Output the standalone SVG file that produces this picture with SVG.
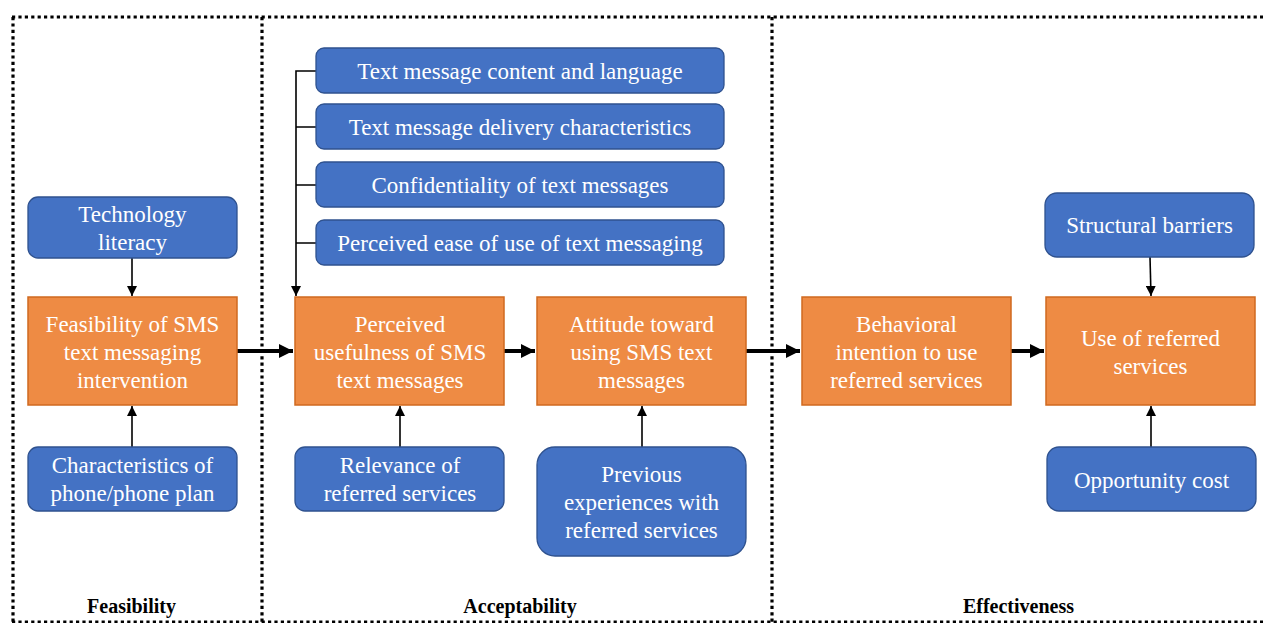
<svg xmlns="http://www.w3.org/2000/svg" width="1263" height="623" viewBox="0 0 1263 623">
<defs>
<style>
.blue{fill:#4472C4;stroke:#2F528F;stroke-width:1.3}
.orange{fill:#EE8B44;stroke:#D0691F;stroke-width:1.5}
.t{font-family:"Liberation Serif","Times New Roman",serif;font-size:23px;fill:#fff;text-anchor:middle}
.lbl{font-family:"Liberation Serif","Times New Roman",serif;font-size:20px;font-weight:bold;fill:#000;text-anchor:middle}
.dot{stroke:#000;stroke-width:3.2;stroke-dasharray:3.2 3.2;fill:none}
.thin{stroke:#000;stroke-width:1.6;fill:none}
.thick{stroke:#000;stroke-width:4;fill:none}
</style>
<marker id="ahs" viewBox="0 0 10 10" refX="10" refY="5" markerWidth="10" markerHeight="10" markerUnits="userSpaceOnUse" orient="auto"><path d="M0,0 L10,5 L0,10 z" fill="#000"/></marker>
<marker id="ahb" viewBox="0 0 10 10" refX="10" refY="5" markerWidth="14" markerHeight="14" markerUnits="userSpaceOnUse" orient="auto"><path d="M0,0 L10,5 L0,10 z" fill="#000"/></marker>
</defs>
<rect width="1263" height="623" fill="#fff"/>
<g id="frame">
<path class="dot" d="M12,17 H1263"/>
<path class="dot" d="M13,17 V623"/>
<path class="dot" d="M262,17 V623"/>
<path class="dot" d="M772,17 V623"/>
<path class="dot" d="M12,622 H1263"/>
</g>
<g id="connectors">
<path class="thick" d="M237,351 H293" marker-end="url(#ahb)"/>
<path class="thick" d="M504,351 H535" marker-end="url(#ahb)"/>
<path class="thick" d="M746,351 H800" marker-end="url(#ahb)"/>
<path class="thick" d="M1011,351 H1044" marker-end="url(#ahb)"/>
<path class="thin" d="M132,258 V296" marker-end="url(#ahs)"/>
<path class="thin" d="M132,447 V406" marker-end="url(#ahs)"/>
<path class="thin" d="M400,447 V406" marker-end="url(#ahs)"/>
<path class="thin" d="M642,447 V406" marker-end="url(#ahs)"/>
<path class="thin" d="M1150,257 L1151,296" marker-end="url(#ahs)"/>
<path class="thin" d="M1151,447 V406" marker-end="url(#ahs)"/>
<path class="thin" d="M316,71 H296 V296" marker-end="url(#ahs)"/>
<path class="thin" d="M296,127 H316 M296,185 H316 M296,243 H316"/>
</g>
<g id="n_tech"><rect class="blue" x="28" y="197" width="209" height="61" rx="10"/><text class="t" x="132.5" y="222">Technology</text><text class="t" x="132.5" y="250">literacy</text></g>
<g id="n_feas"><rect class="orange" x="28" y="297" width="209" height="108"/><text class="t" x="132.5" y="332">Feasibility of SMS</text><text class="t" x="132.5" y="360">text messaging</text><text class="t" x="132.5" y="388">intervention</text></g>
<g id="n_char"><rect class="blue" x="28" y="447" width="209" height="64" rx="10"/><text class="t" x="132.5" y="473">Characteristics of</text><text class="t" x="132.5" y="501">phone/phone plan</text></g>
<g id="n_s1"><rect class="blue" x="316" y="48" width="408" height="45" rx="8"/><text class="t" x="520" y="79">Text message content and language</text></g>
<g id="n_s2"><rect class="blue" x="316" y="104" width="408" height="45" rx="8"/><text class="t" x="520" y="135">Text message delivery characteristics</text></g>
<g id="n_s3"><rect class="blue" x="316" y="162" width="408" height="45" rx="8"/><text class="t" x="520" y="193">Confidentiality of text messages</text></g>
<g id="n_s4"><rect class="blue" x="316" y="220" width="408" height="45" rx="8"/><text class="t" x="520" y="251">Perceived ease of use of text messaging</text></g>
<g id="n_useful"><rect class="orange" x="295" y="297" width="209" height="108"/><text class="t" x="400" y="332">Perceived</text><text class="t" x="400" y="360">usefulness of SMS</text><text class="t" x="400" y="388">text messages</text></g>
<g id="n_att"><rect class="orange" x="537" y="297" width="209" height="108"/><text class="t" x="641.5" y="332">Attitude toward</text><text class="t" x="641.5" y="360">using SMS text</text><text class="t" x="641.5" y="388">messages</text></g>
<g id="n_rel"><rect class="blue" x="295" y="447" width="209" height="64" rx="10"/><text class="t" x="400" y="473">Relevance of</text><text class="t" x="400" y="501">referred services</text></g>
<g id="n_prev"><rect class="blue" x="537" y="447" width="209" height="109" rx="18"/><text class="t" x="641.5" y="482">Previous</text><text class="t" x="641.5" y="510">experiences with</text><text class="t" x="641.5" y="538">referred services</text></g>
<g id="n_beh"><rect class="orange" x="802" y="297" width="209" height="108"/><text class="t" x="906.5" y="332">Behavioral</text><text class="t" x="906.5" y="360">intention to use</text><text class="t" x="906.5" y="388">referred services</text></g>
<g id="n_use"><rect class="orange" x="1046" y="297" width="209" height="108"/><text class="t" x="1150.5" y="346">Use of referred</text><text class="t" x="1150.5" y="374">services</text></g>
<g id="n_struct"><rect class="blue" x="1045" y="193" width="209" height="64" rx="12"/><text class="t" x="1149.5" y="233">Structural barriers</text></g>
<g id="n_opp"><rect class="blue" x="1047" y="447" width="209" height="64" rx="12"/><text class="t" x="1151.5" y="488">Opportunity cost</text></g>
<g id="labels">
<text class="lbl" x="131.5" y="613">Feasibility</text>
<text class="lbl" x="520" y="613">Acceptability</text>
<text class="lbl" x="1018.5" y="613">Effectiveness</text>
</g>
</svg>
